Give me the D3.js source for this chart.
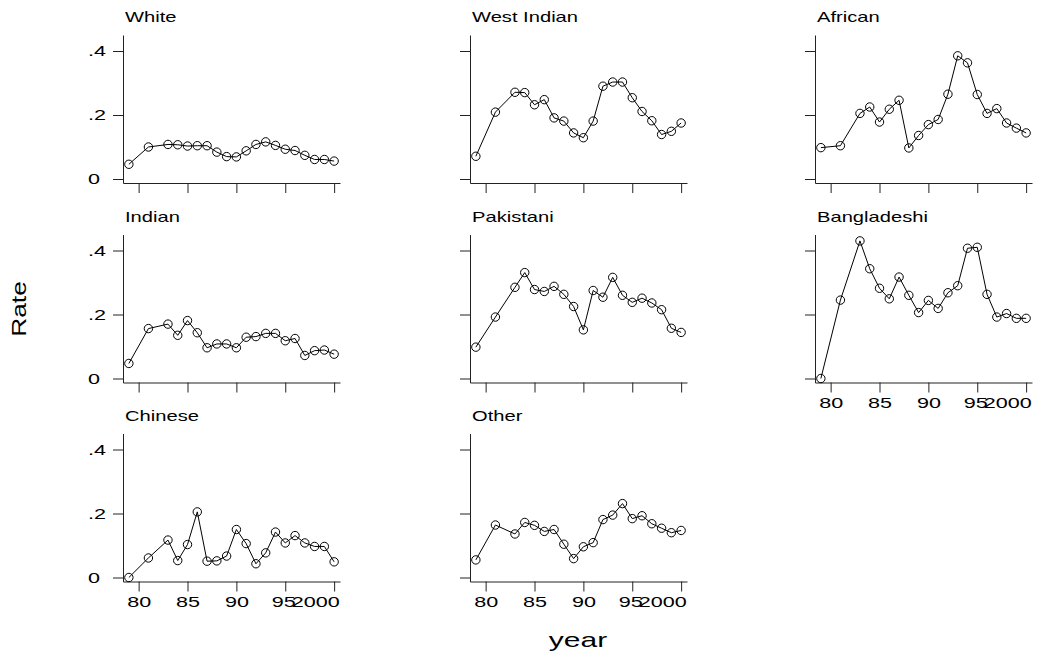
<html>
  <script src="https://cdnjs.cloudflare.com/ajax/libs/d3/7.8.5/d3.min.js"></script>
  <style>
    html, body {
      margin: 0px;
      padding: 0px;
      background: #fff;
    }
    svg text {
      font-family: "Liberation Sans", Arial, sans-serif;
      fill: #000;
    }
  </style>
  <body>
    <div id="graph"></div>
    <script>
      // data
      var years = [1979, 1981, 1983, 1984, 1985, 1986, 1987, 1988, 1989, 1990,
                   1991, 1992, 1993, 1994, 1995, 1996, 1997, 1998, 1999, 2000];
      var groups = ["White", "West Indian", "African", "Indian", "Pakistani", "Bangladeshi", "Chinese", "Other"];

      var white       = [0.046, 0.100, 0.108, 0.107, 0.103, 0.104, 0.104, 0.084, 0.070, 0.069, 0.088, 0.108, 0.116, 0.105, 0.093, 0.089, 0.074, 0.061, 0.061, 0.056];
      var westIndian  = [0.071, 0.209, 0.271, 0.270, 0.232, 0.248, 0.191, 0.181, 0.144, 0.129, 0.181, 0.290, 0.303, 0.303, 0.254, 0.211, 0.182, 0.139, 0.149, 0.175];
      var african     = [0.098, 0.104, 0.205, 0.225, 0.178, 0.218, 0.246, 0.097, 0.136, 0.170, 0.186, 0.265, 0.385, 0.363, 0.264, 0.205, 0.220, 0.175, 0.159, 0.144];
      var indian      = [0.047, 0.156, 0.170, 0.135, 0.181, 0.143, 0.096, 0.108, 0.108, 0.096, 0.129, 0.131, 0.141, 0.141, 0.118, 0.125, 0.072, 0.087, 0.089, 0.076];
      var pakistani   = [0.098, 0.192, 0.285, 0.331, 0.278, 0.272, 0.288, 0.263, 0.225, 0.152, 0.275, 0.254, 0.316, 0.260, 0.238, 0.251, 0.236, 0.215, 0.157, 0.144];
      var bangladeshi = [0.000, 0.245, 0.430, 0.343, 0.282, 0.249, 0.317, 0.260, 0.206, 0.244, 0.219, 0.268, 0.290, 0.407, 0.410, 0.263, 0.192, 0.203, 0.188, 0.188];
      var chinese     = [0.000, 0.061, 0.117, 0.053, 0.103, 0.205, 0.051, 0.052, 0.067, 0.150, 0.106, 0.043, 0.077, 0.142, 0.108, 0.131, 0.108, 0.097, 0.097, 0.049];
      var other       = [0.055, 0.164, 0.136, 0.172, 0.163, 0.144, 0.150, 0.104, 0.059, 0.096, 0.109, 0.181, 0.195, 0.231, 0.184, 0.193, 0.168, 0.154, 0.140, 0.147];
      var series = [white, westIndian, african, indian, pakistani, bangladeshi, chinese, other];

      var yTicks = [0, 0.2, 0.4];
      var yTickLabels = ["0", ".2", ".4"];
      var xTicks = [1980, 1985, 1990, 1995, 2000];
      var xTickLabels = ["80", "85", "90", "95", "2000"];

      var width = 1038, height = 657;
      var colX = [123, 470, 815];
      var rowY = [35, 234.5, 433.5];
      var pw = 217, ph = 148;
      var sx = 1.44; // the original text is drawn wide

      var svg = d3.select("#graph").append("svg")
        .attr("width", width)
        .attr("height", height);

      var x = d3.scaleLinear().domain([1978.4, 2000.6]).range([0, pw]);
      var y = d3.scaleLinear().domain([-0.0125, 0.45]).range([ph, 0]);

      var line = d3.line()
        .x(function(d) { return x(d.year); })
        .y(function(d) { return y(d.value); });

      groups.forEach(function(name, i) {
        var col = i % 3, row = Math.floor(i / 3);
        var g = svg.append("g").attr("transform", "translate(" + colX[col] + "," + rowY[row] + ")");

        // x labels only where nothing sits below
        var showX = (row == 2) || (row == 1 && col == 2);
        var showY = (col == 0);

        var yAxis = d3.axisLeft(y)
          .tickValues(yTicks)
          .tickSize(10)
          .tickSizeOuter(0)
          .tickFormat(function(d, j) { return showY ? yTickLabels[j] : ""; });

        var xAxis = d3.axisBottom(x)
          .tickValues(xTicks)
          .tickSize(10)
          .tickSizeOuter(0)
          .tickPadding(5)
          .tickFormat(function(d, j) { return showX ? xTickLabels[j] : ""; });

        var ya = g.append("g").call(yAxis);
        var xa = g.append("g").attr("transform", "translate(0," + ph + ")").call(xAxis);

        [ya, xa].forEach(function(a) {
          a.selectAll("path, line").attr("stroke", "#222").attr("stroke-width", 1);
          a.selectAll("text")
            .style("font-family", '"Liberation Sans", Arial, sans-serif')
            .style("font-size", "15px")
            .attr("fill", "#000")
            .attr("transform", "scale(" + sx + ",1)");
        });

        // y labels sit left-aligned
        ya.selectAll("text")
          .attr("text-anchor", "start")
          .attr("x", -35 / sx);

        // the wide "2000" is pulled in, as in the original
        xa.selectAll("text")
          .attr("dx", function(d) { return d == 2000 ? -19 / sx : (d == 1995 ? -2 / sx : 0); });

        g.append("text")
          .attr("transform", "translate(2,-13) scale(" + sx + ",1)")
          .style("font-size", "14px")
          .text(name);

        var pts = years.map(function(yr, j) { return { year: yr, value: series[i][j] }; });

        g.append("path")
          .datum(pts)
          .attr("fill", "none")
          .attr("stroke", "#000")
          .attr("stroke-width", 1)
          .attr("d", line);

        g.selectAll(".pt")
          .data(pts)
          .enter()
          .append("circle")
            .attr("class", "pt")
            .attr("cx", function(d) { return x(d.year); })
            .attr("cy", function(d) { return y(d.value); })
            .attr("r", 4.2)
            .attr("fill", "none")
            .attr("stroke", "#000")
            .attr("stroke-width", 1);
      });

      svg.append("text")
        .attr("transform", "translate(26,309) rotate(-90) scale(1.32,1)")
        .attr("text-anchor", "middle")
        .style("font-size", "20px")
        .text("Rate");

      svg.append("text")
        .attr("transform", "translate(578,647) scale(1.5,1)")
        .attr("text-anchor", "middle")
        .style("font-size", "20px")
        .text("year");
    </script>
  </body>
</html>
